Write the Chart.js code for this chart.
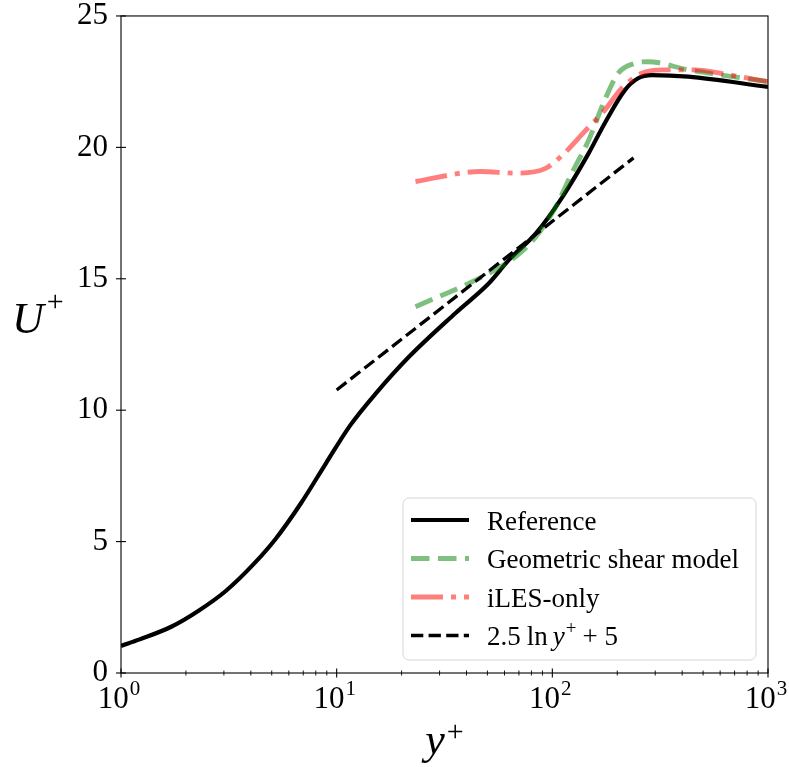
<!DOCTYPE html>
<html>
<head>
<meta charset="utf-8">
<script src="https://cdn.jsdelivr.net/npm/chart.js@4.4.1/dist/chart.umd.min.js"></script>
<style>
  html, body { margin: 0; padding: 0; background: #fff; }
</style>
</head>
<body>
<canvas id="profile" width="789" height="767"></canvas>
<script>
// mean velocity profile in wall units
const refYPlus = [1.0, 1.22, 1.71, 2.29, 3.07, 4.15, 5.23, 6.83, 8.92, 11.6, 15.2, 21.7, 35.5, 50.8, 62.9, 83.9, 111.5, 147.5, 175, 217, 250, 289, 427, 1000];
const refU     = [1.03, 1.28, 1.76, 2.37, 3.13, 4.17, 5.12, 6.46, 7.98, 9.44, 10.64, 12.04, 13.69, 14.83, 15.72, 16.73, 18.12, 19.78, 20.92, 22.18, 22.63, 22.75, 22.69, 22.3];

const gsmYPlus = [23.2, 41.1, 50.8, 67.6, 83.9, 103.7, 123, 147.5, 175, 202, 242, 278, 427, 1000];
const gsmU     = [13.94, 14.83, 15.21, 15.84, 16.6, 17.74, 19.01, 20.28, 21.8, 22.82, 23.2, 23.26, 22.95, 22.5];

const ilesYPlus = [23.2, 46.5, 67.6, 93, 111.5, 141, 175, 210, 260, 322, 460, 656, 1000];
const ilesU     = [18.7, 19.08, 19.02, 19.2, 19.71, 20.6, 21.42, 22.25, 22.82, 22.95, 22.95, 22.76, 22.5];

const lawYPlus = [10, 238];
const lawU     = [10.77, 19.6];

const xMajor = [1, 10, 100, 1000];
const xExponents = ['0', '1', '2', '3'];
const yTicks = [0, 5, 10, 15, 20, 25];

const serif = '"Liberation Serif", "DejaVu Serif", serif';

function pairs(xs, ys) {
  return xs.map((x, i) => ({ x: x, y: ys[i] }));
}

function seg(ctx, x1, y1, x2, y2) {
  ctx.beginPath();
  ctx.moveTo(x1, y1);
  ctx.lineTo(x2, y2);
  ctx.stroke();
}

// draw a run of text pieces left to right, each with its own font and baseline shift
function runs(ctx, x, y, parts) {
  parts.forEach(p => {
    ctx.font = p.font;
    ctx.fillText(p.text, x, y - (p.rise || 0));
    x += ctx.measureText(p.text).width + (p.gap || 0);
  });
}

function runsWidth(ctx, parts) {
  let w = 0;
  parts.forEach(p => {
    ctx.font = p.font;
    w += ctx.measureText(p.text).width + (p.gap || 0);
  });
  return w;
}

const lawLabel = [
  { text: '2.5', font: '27px ' + serif, gap: 6 },
  { text: 'ln', font: '27px ' + serif, gap: 5 },
  { text: 'y', font: 'italic 27px ' + serif, gap: 1 },
  { text: '+', font: '19px ' + serif, rise: 11, gap: 6 },
  { text: '+ 5', font: '27px ' + serif }
];

function drawLegend(chart) {
  const ctx = chart.ctx;
  const a = chart.chartArea;
  const bx = a.right - 365, by = a.bottom - 175, bw = 353, bh = 162;

  ctx.save();
  ctx.beginPath();
  ctx.roundRect(bx, by, bw, bh, 6);
  ctx.fillStyle = 'rgba(255,255,255,0.8)';
  ctx.fill();
  ctx.strokeStyle = '#d6d6d6';
  ctx.lineWidth = 1;
  ctx.stroke();

  chart.data.datasets.forEach((ds, i) => {
    const yRow = by + 22 + i * 38.5;
    ctx.strokeStyle = ds.borderColor;
    ctx.lineWidth = ds.borderWidth;
    ctx.lineCap = 'butt';
    ctx.setLineDash(ds.borderDash || []);
    seg(ctx, bx + 8, yRow, bx + 66, yRow);
    ctx.setLineDash([]);

    ctx.fillStyle = '#000';
    ctx.textAlign = 'left';
    ctx.textBaseline = 'alphabetic';
    if (i === 3) {
      runs(ctx, bx + 84, yRow + 9.5, lawLabel);
    } else {
      ctx.font = '27px ' + serif;
      ctx.fillText(ds.label, bx + 84, yRow + 9.5);
    }
  });
  ctx.restore();
}

const framePlugin = {
  id: 'frame',
  afterDraw(chart) {
    const ctx = chart.ctx;
    const a = chart.chartArea;
    const xs = chart.scales.x;
    const ys = chart.scales.y;

    ctx.save();
    ctx.strokeStyle = '#000';
    ctx.lineWidth = 1.1;
    ctx.strokeRect(a.left, a.top, a.right - a.left, a.bottom - a.top);

    // major ticks straddle the axis line
    yTicks.forEach(v => {
      const p = ys.getPixelForValue(v);
      seg(ctx, a.left - 5, p, a.left + 5, p);
    });
    xMajor.forEach(v => {
      const p = xs.getPixelForValue(v);
      seg(ctx, p, a.bottom - 4.5, p, a.bottom + 4.5);
    });
    ctx.lineWidth = 0.9;
    for (let d = 1; d < 1000; d *= 10) {
      for (let m = 2; m <= 9; m++) {
        const p = xs.getPixelForValue(m * d);
        seg(ctx, p, a.bottom - 2.5, p, a.bottom + 2.5);
      }
    }

    // x tick labels as powers of ten
    ctx.fillStyle = '#000';
    ctx.textAlign = 'left';
    ctx.textBaseline = 'alphabetic';
    xMajor.forEach((v, i) => {
      const parts = [
        { text: '10', font: '31px ' + serif, gap: 1 },
        { text: xExponents[i], font: '21px ' + serif, rise: 13 }
      ];
      const w = runsWidth(ctx, parts);
      runs(ctx, xs.getPixelForValue(v) - w / 2 - 2, a.bottom + 35, parts);
    });

    // axis titles
    const xTitle = [
      { text: 'y', font: 'italic 44px ' + serif, gap: 2 },
      { text: '+', font: '30px ' + serif, rise: 13 }
    ];
    const xw = runsWidth(ctx, xTitle);
    runs(ctx, (a.left + a.right) / 2 - xw / 2, a.bottom + 81, xTitle);

    runs(ctx, 12, a.top + 317, [
      { text: 'U', font: 'italic 44px ' + serif, gap: 3 },
      { text: '+', font: '30px ' + serif, rise: 22 }
    ]);
    ctx.restore();

    drawLegend(chart);
  }
};

new Chart(document.getElementById('profile'), {
  type: 'line',
  data: {
    datasets: [
      {
        label: 'Reference',
        data: pairs(refYPlus, refU),
        borderColor: '#000',
        borderWidth: 4.2,
        cubicInterpolationMode: 'monotone',
        order: 4
      },
      {
        label: 'Geometric shear model',
        data: pairs(gsmYPlus, gsmU),
        borderColor: 'rgba(0, 128, 0, 0.5)',
        borderWidth: 4.9,
        borderDash: [18.5, 8.5],
        cubicInterpolationMode: 'monotone',
        order: 3
      },
      {
        label: 'iLES-only',
        data: pairs(ilesYPlus, ilesU),
        borderColor: 'rgba(255, 0, 0, 0.5)',
        borderWidth: 4.9,
        borderDash: [32, 8, 5, 8],
        cubicInterpolationMode: 'monotone',
        order: 2
      },
      {
        label: '2.5 ln y⁺ + 5',
        data: pairs(lawYPlus, lawU),
        borderColor: '#000',
        borderWidth: 3.3,
        borderDash: [12.3, 5.3],
        order: 1
      }
    ]
  },
  options: {
    responsive: false,
    animation: false,
    layout: { padding: { top: 0, right: 21, left: 0, bottom: 0 } },
    elements: {
      point: { radius: 0 },
      line: { fill: false, borderCapStyle: 'butt', borderJoinStyle: 'round' }
    },
    plugins: {
      legend: { display: false },
      tooltip: { enabled: false }
    },
    scales: {
      x: {
        type: 'logarithmic',
        min: 1,
        max: 1000,
        grid: { display: false, drawTicks: false },
        border: { display: false },
        ticks: { display: false },
        afterFit(s) { s.height = 94; }
      },
      y: {
        type: 'linear',
        min: 0,
        max: 25,
        // tick marks are drawn by the frame plugin; tickLength only spaces the labels
        grid: { display: false, drawTicks: true, tickLength: 13 },
        border: { display: false },
        ticks: {
          stepSize: 5,
          padding: 0,
          color: '#000',
          font: { family: serif, size: 31, lineHeight: 1.03 }
        },
        afterFit(s) { s.width = 121; }
      }
    }
  },
  plugins: [framePlugin]
});
</script>
</body>
</html>
